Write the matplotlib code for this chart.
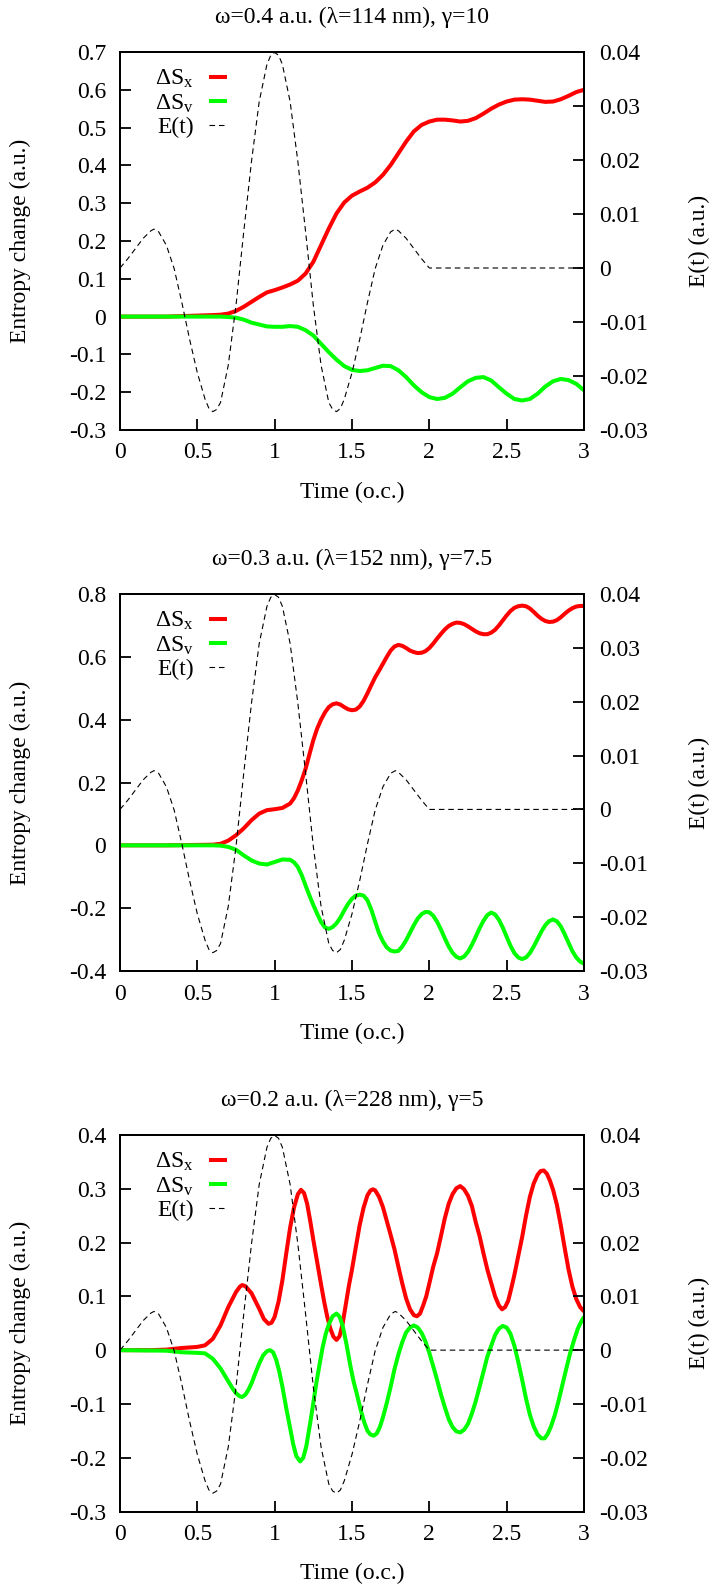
import numpy as np
import matplotlib
matplotlib.use("Agg")
import matplotlib.pyplot as plt
from matplotlib.ticker import FuncFormatter, MultipleLocator

plt.rcParams['font.family'] = ['Liberation Serif', 'DejaVu Serif']
plt.rcParams['mathtext.fontset'] = 'custom'
plt.rcParams['mathtext.rm'] = 'Liberation Serif'
plt.rcParams['mathtext.it'] = 'Liberation Serif:italic'
plt.rcParams['axes.unicode_minus'] = False

FS = 17

# ---------------- data ----------------
titles = ["ω=0.4 a.u. (λ=114 nm), γ=10",
          "ω=0.3 a.u. (λ=152 nm), γ=7.5",
          "ω=0.2 a.u. (λ=228 nm), γ=5"]

# laser field E(t), right axis (same in optical-cycle units for every panel)
t_E = [0, 0.05, 0.1, 0.15, 0.2, 0.22, 0.25, 0.3, 0.35, 0.4,
       0.45, 0.5, 0.55, 0.575, 0.6, 0.625, 0.65, 0.7, 0.75, 0.8,
       0.85, 0.9, 0.95, 0.975, 1.0, 1.025, 1.05, 1.1, 1.15, 1.2,
       1.25, 1.3, 1.35, 1.375, 1.4, 1.425, 1.45, 1.5, 1.55, 1.6,
       1.65, 1.7, 1.75, 1.78, 1.8, 1.85, 1.9, 1.95, 2.0, 3.0]
E_t = [0, 0.0017, 0.0036, 0.0055, 0.0069, 0.0072, 0.0067, 0.0042, -0.0001, -0.0064,
       -0.0132, -0.0194, -0.0243, -0.0260, -0.0266, -0.0262, -0.0249, -0.0180, -0.0069, 0.0067,
       0.0197, 0.0308, 0.0377, 0.0394, 0.0399, 0.0394, 0.0377, 0.0308, 0.0197, 0.0067,
       -0.0069, -0.0180, -0.0249, -0.0262, -0.0266, -0.0260, -0.0243, -0.0194, -0.0132, -0.0064,
       -0.0001, 0.0042, 0.0067, 0.0072, 0.0069, 0.0055, 0.0036, 0.0017, 0, 0]

# panel 1 (omega = 0.4)
t1 = [0, 0.3] + list(np.round(np.arange(0.6, 3.0001, 0.05), 3))
dSx1 = [0, 0,
        0.004, 0.005, 0.008, 0.015, 0.026, 0.039, 0.052, 0.064, 0.070, 0.077, 0.085,
        0.095, 0.114, 0.145, 0.189, 0.233, 0.273, 0.302, 0.320, 0.331, 0.341, 0.355,
        0.375, 0.401, 0.432, 0.463, 0.490, 0.507, 0.516, 0.521, 0.521, 0.519, 0.516,
        0.518, 0.525, 0.537, 0.550, 0.561, 0.569, 0.574, 0.575, 0.574, 0.571, 0.568,
        0.569, 0.575, 0.584, 0.594, 0.600]
dSv1 = [0, 0,
        0, 0, -0.001, -0.003, -0.008, -0.016, -0.021, -0.026, -0.027, -0.027, -0.025,
        -0.027, -0.036, -0.050, -0.072, -0.094, -0.114, -0.131, -0.141, -0.144, -0.142,
        -0.136, -0.130, -0.131, -0.142, -0.160, -0.182, -0.200, -0.213, -0.218, -0.215,
        -0.204, -0.187, -0.171, -0.162, -0.160, -0.169, -0.187, -0.204, -0.218, -0.222,
        -0.218, -0.204, -0.185, -0.171, -0.165, -0.168, -0.178, -0.195]

# panel 2 (omega = 0.3)
t2 = [0, 0.3, 0.6, 0.65, 0.7, 0.75, 0.8, 0.85, 0.9, 0.95, 1.0, 1.05] + \
     list(np.round(np.arange(1.1, 3.0001, 0.025), 3))
dSx2 = [0, 0, 0.002, 0.005, 0.015, 0.032, 0.054, 0.080, 0.101, 0.112, 0.115, 0.119,
        0.133, 0.150, 0.175, 0.207, 0.244, 0.290, 0.335, 0.372, 0.400, 0.423,
        0.440, 0.449, 0.452, 0.448, 0.440, 0.433, 0.430, 0.432, 0.442, 0.460,
        0.484, 0.510, 0.535, 0.556, 0.578, 0.600, 0.620, 0.633, 0.638, 0.635,
        0.628, 0.620, 0.615, 0.612, 0.613, 0.618,
        0.628, 0.642, 0.658, 0.673, 0.687, 0.698, 0.705, 0.709, 0.708, 0.704,
        0.697, 0.689, 0.681, 0.675, 0.672, 0.672, 0.677, 0.686, 0.700, 0.716,
        0.732, 0.746, 0.756, 0.761, 0.763, 0.761, 0.754, 0.743, 0.731, 0.721,
        0.714, 0.711, 0.712, 0.717, 0.726, 0.737, 0.747, 0.755, 0.760, 0.762,
        0.762]
dSv2 = [0, 0, 0, -0.001, -0.005, -0.014, -0.032, -0.048, -0.058, -0.061, -0.053, -0.045,
        -0.046, -0.054, -0.069, -0.095, -0.128, -0.160, -0.190, -0.218, -0.244, -0.261,
        -0.266, -0.260, -0.248, -0.230, -0.207, -0.186, -0.170, -0.160, -0.157, -0.160,
        -0.175, -0.205, -0.243, -0.280, -0.306, -0.325, -0.335, -0.338, -0.336, -0.322,
        -0.302, -0.278, -0.254, -0.233, -0.219, -0.212,
        -0.213, -0.224, -0.243, -0.268, -0.296, -0.322, -0.342, -0.355, -0.360, -0.354,
        -0.339, -0.317, -0.291, -0.264, -0.240, -0.222, -0.214, -0.220, -0.237, -0.262,
        -0.291, -0.320, -0.343, -0.357, -0.362, -0.357, -0.343, -0.322, -0.298, -0.274,
        -0.254, -0.241, -0.236, -0.242, -0.258, -0.283, -0.310, -0.337, -0.357, -0.370,
        -0.377]

# panel 3 (omega = 0.2)
t3x = [0, 0.2, 0.3, 0.4, 0.5, 0.55, 0.6, 0.65, 0.7, 0.75,
       0.775, 0.79, 0.81, 0.85, 0.9, 0.93, 0.96, 0.98, 1.0, 1.025,
       1.05, 1.075, 1.1, 1.125, 1.15, 1.17, 1.19, 1.21, 1.23, 1.25,
       1.28, 1.3, 1.32, 1.34, 1.36, 1.38, 1.4, 1.42, 1.44, 1.46,
       1.48, 1.5, 1.525, 1.55, 1.575, 1.6, 1.62, 1.635, 1.65, 1.675,
       1.7, 1.725, 1.75, 1.775, 1.8, 1.825, 1.85, 1.875, 1.9, 1.92,
       1.94, 1.96, 1.98, 2.0, 2.025, 2.05, 2.075, 2.1, 2.125, 2.15,
       2.175, 2.2, 2.225, 2.25, 2.275, 2.3, 2.325, 2.35, 2.375, 2.4,
       2.425, 2.45, 2.47, 2.49, 2.51, 2.53, 2.55, 2.575, 2.6, 2.625,
       2.65, 2.675, 2.7, 2.72, 2.74, 2.76, 2.78, 2.8, 2.825, 2.85,
       2.875, 2.9, 2.925, 2.95, 2.975, 3.0]
dSx3 = [0, 0, 0.001, 0.004, 0.006, 0.009, 0.021, 0.046, 0.080, 0.108,
        0.118, 0.121, 0.119, 0.106, 0.077, 0.058, 0.049, 0.051, 0.062, 0.090,
        0.130, 0.180, 0.228, 0.265, 0.290, 0.298, 0.292, 0.272, 0.240, 0.205,
        0.155, 0.122, 0.090, 0.062, 0.040, 0.025, 0.019, 0.026, 0.050, 0.085,
        0.120, 0.150, 0.192, 0.233, 0.265, 0.288, 0.297, 0.299, 0.297, 0.285,
        0.266, 0.240, 0.214, 0.187, 0.155, 0.124, 0.096, 0.076, 0.065, 0.063,
        0.068, 0.083, 0.100, 0.124, 0.155, 0.180, 0.212, 0.245, 0.272, 0.290,
        0.301, 0.305, 0.299, 0.287, 0.268, 0.238, 0.212, 0.180, 0.150, 0.125,
        0.100, 0.083, 0.076, 0.080, 0.092, 0.115, 0.140, 0.175, 0.210, 0.250,
        0.285, 0.310, 0.326, 0.333, 0.334, 0.328, 0.315, 0.298, 0.270, 0.232,
        0.190, 0.150, 0.118, 0.095, 0.080, 0.072]
t3v = [0, 0.3, 0.4, 0.5, 0.55, 0.6, 0.65, 0.7, 0.725, 0.75,
       0.775, 0.79, 0.81, 0.83, 0.85, 0.875, 0.9, 0.925, 0.95, 0.97,
       0.99, 1.01, 1.03, 1.05, 1.075, 1.1, 1.12, 1.14, 1.165, 1.185,
       1.205, 1.23, 1.25, 1.27, 1.29, 1.31, 1.33, 1.35, 1.375, 1.4,
       1.42, 1.44, 1.465, 1.49, 1.51, 1.53, 1.555, 1.58, 1.6, 1.62,
       1.64, 1.66, 1.68, 1.7, 1.725, 1.75, 1.775, 1.8, 1.825, 1.85,
       1.875, 1.9, 1.925, 1.95, 1.975, 2.0, 2.025, 2.05, 2.075, 2.1,
       2.125, 2.15, 2.175, 2.2, 2.225, 2.25, 2.275, 2.3, 2.325, 2.35,
       2.375, 2.4, 2.425, 2.45, 2.475, 2.5, 2.525, 2.55, 2.575, 2.6,
       2.625, 2.65, 2.675, 2.7, 2.725, 2.745, 2.765, 2.785, 2.81, 2.835,
       2.86, 2.885, 2.91, 2.935, 2.96, 2.98, 3.0]
dSv3 = [0, -0.001, -0.004, -0.005, -0.006, -0.016, -0.034, -0.058, -0.070, -0.080,
        -0.086, -0.087, -0.083, -0.074, -0.062, -0.043, -0.025, -0.010, -0.002, 0.000,
        -0.004, -0.018, -0.040, -0.068, -0.108, -0.145, -0.175, -0.197, -0.207, -0.200,
        -0.178, -0.135, -0.098, -0.060, -0.027, 0.005, 0.030, 0.048, 0.063, 0.068,
        0.062, 0.045, 0.010, -0.030, -0.058, -0.080, -0.110, -0.135, -0.150, -0.157,
        -0.159, -0.155, -0.143, -0.125, -0.098, -0.068, -0.035, -0.008, 0.015, 0.033,
        0.042, 0.046, 0.042, 0.032, 0.016, -0.005, -0.030, -0.055, -0.082, -0.106,
        -0.128, -0.143, -0.151, -0.153, -0.148, -0.137, -0.118, -0.095, -0.068, -0.040,
        -0.012, 0.008, 0.028, 0.040, 0.045, 0.042, 0.030, 0.008, -0.022, -0.055,
        -0.090, -0.120, -0.142, -0.157, -0.164, -0.164, -0.156, -0.143, -0.122, -0.095,
        -0.065, -0.035, -0.006, 0.018, 0.040, 0.052, 0.062]

panels = [
    dict(tx=t1, sx=dSx1, tv=t1, sv=dSv1, ylim=(-0.3, 0.7), ystep=0.1),
    dict(tx=t2, sx=dSx2, tv=t2, sv=dSv2, ylim=(-0.4, 0.8), ystep=0.2),
    dict(tx=t3x, sx=dSx3, tv=t3v, sv=dSv3, ylim=(-0.3, 0.4), ystep=0.1),
]

# ---------------- figure ----------------
W, H = 712, 1589
fig = plt.figure(figsize=(W / 100, H / 100), dpi=100)
boxes = [(52, 430), (594, 971), (1135, 1511.5)]  # top, bottom of each plot box, px
left_px, right_px = 120, 584

fmt = FuncFormatter(lambda v, p: ('%g' % round(v, 6)))

for i, (p, (top, bot)) in enumerate(zip(panels, boxes)):
    ax = fig.add_axes([left_px / W, 1 - bot / H, (right_px - left_px) / W, (bot - top) / H])
    hpx = bot - top
    ax.plot(p['tx'], p['sx'], color='#ff0000', lw=2.9, label='ΔS$_\\mathrm{x}$',
            solid_capstyle='butt', solid_joinstyle='round')
    ax.plot(p['tv'], p['sv'], color='#00ff00', lw=2.9, label='ΔS$_\\mathrm{v}$',
            solid_capstyle='butt', solid_joinstyle='round')
    ax.set_xlim(0, 3)
    ax.set_ylim(*p['ylim'])
    ax.xaxis.set_major_locator(MultipleLocator(0.5))
    ax.yaxis.set_major_locator(MultipleLocator(p['ystep']))
    ax.xaxis.set_major_formatter(fmt)
    ax.yaxis.set_major_formatter(fmt)
    ax.tick_params(axis='both', direction='in', length=8, width=1.3, labelsize=FS,
                   pad=10, top=False, right=False)
    ax.tick_params(axis='x', pad=9)
    for s in ax.spines.values():
        s.set_linewidth(1.4)

    ax2 = ax.twinx()
    ax2.plot(t_E, E_t, color='black', lw=0.8, ls=(0, (5, 3.5)), label='E(t)')
    ax2.set_ylim(-0.03, 0.04)
    ax2.yaxis.set_major_locator(MultipleLocator(0.01))
    ax2.yaxis.set_major_formatter(fmt)
    ax2.tick_params(axis='y', direction='in', length=8, width=1.3, labelsize=FS, pad=11)
    for s in ax2.spines.values():
        s.set_linewidth(1.4)

    ax.set_xlabel('Time (o.c.)', fontsize=FS)
    ax.xaxis.set_label_coords(0.5, -62 / hpx)
    ax.xaxis.label.set_va('center')
    ax.set_ylabel('Entropy change (a.u.)', fontsize=FS)
    ax.yaxis.set_label_coords((20 - left_px) / (right_px - left_px), 0.5)
    ax.yaxis.label.set_va('center')
    ax2.set_ylabel('E(t) (a.u.)', fontsize=FS)
    ax2.yaxis.set_label_coords((699 - left_px) / (right_px - left_px), 0.5)
    ax2.yaxis.label.set_va('center')
    ax2.yaxis.label.set_rotation(90)

    ax.set_title(titles[i], fontsize=FS, y=1 + 35 / hpx, pad=0, va='center')

    h1, l1 = ax.get_legend_handles_labels()
    h2, l2 = ax2.get_legend_handles_labels()
    ax2.legend(h1 + h2, l1 + l2, loc='upper left', bbox_to_anchor=(0.075, 0.958),
               frameon=False, markerfirst=False, fontsize=FS, handlelength=0.76,
               handletextpad=0.65, labelspacing=0.09, borderpad=0, borderaxespad=0)

fig.savefig('out.png', dpi=100)
